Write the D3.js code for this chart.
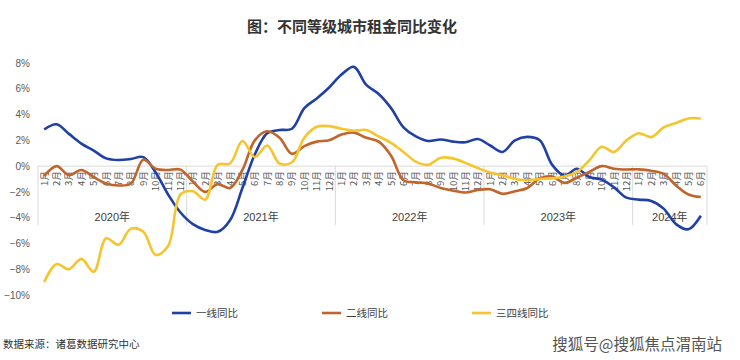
<!DOCTYPE html>
<html><head><meta charset="utf-8">
<script src="https://cdn.jsdelivr.net/npm/d3@7"></script>
<style>body{margin:0;background:#fff}svg{display:block}</style>
</head><body><svg id="c" width="740" height="360"></svg>
<script>
const years = ["2020年","2021年","2022年","2023年","2024年"];
const monthsPerYear = [12,12,12,12,6];
const tier1 = [2.84,3.25,2.5,1.75,1.2,0.6,0.47,0.55,0.7,-0.5,-2.2,-3.6,-4.5,-4.95,-5.1,-4.2,-1.7,0.9,2.55,2.8,2.9,4.5,5.25,6.1,7.1,7.7,6.3,5.6,4.5,3.0,2.3,1.95,2.07,1.9,1.85,2.1,1.6,1.1,2.0,2.27,2.0,0.1,-0.75,-0.2,-0.85,-1.05,-1.65,-2.45,-2.6,-2.7,-3.3,-4.5,-4.9,-3.85];
const tier2 = [-0.78,0.0,-0.7,-0.3,-0.85,-1.35,-1.5,-1.35,0.5,-0.2,-0.3,-0.27,-1.2,-2.0,-1.4,-1.7,-0.3,2.0,2.7,2.2,0.95,1.55,1.9,2.0,2.45,2.6,2.2,1.9,0.8,-1.1,-1.25,-1.35,-1.7,-1.9,-2.05,-1.85,-1.8,-2.15,-1.95,-1.7,-0.95,-0.8,-1.3,-0.9,-0.45,0.0,-0.2,-0.26,-0.25,-0.36,-0.6,-1.5,-2.2,-2.4];
const tier34 = [-9.0,-7.6,-8.0,-7.2,-8.2,-5.6,-6.1,-4.85,-5.1,-6.9,-6.2,-2.2,-1.95,-2.6,0.1,0.2,1.95,0.7,1.6,0.2,0.3,2.2,3.05,3.1,2.9,2.75,2.8,2.3,1.8,1.1,0.35,0.1,0.65,0.6,0.25,-0.15,-0.5,-0.7,-1.0,-1.1,-1.0,-0.95,-0.8,-0.45,0.45,1.5,1.1,2.0,2.55,2.25,3.0,3.35,3.7,3.7];
const yTicks = [8,6,4,2,0,-2,-4,-6,-8,-10];
const seriesNames = ["一线同比","二线同比","三四线同比"];
const colors = ["#2140A6","#C0652B","#F6C52E"];

const cats = [];
years.forEach((y,yi)=>{for(let m=1;m<=monthsPerYear[yi];m++)cats.push({key:y+m,year:y,label:m+"月"});});

const svg = d3.select("#c");
const L=38,R=707,T=63,B=295;
const x = d3.scaleBand().domain(cats.map(d=>d.key)).range([L,R]);
const y = d3.scaleLinear().domain([-10,8]).range([B,T]);
const y0 = y(0);

svg.append("text").attr("x",352).attr("y",32).attr("text-anchor","middle")
  .attr("font-family","Noto Sans CJK SC").attr("font-weight","600").attr("font-size",15).attr("fill","#333")
  .text("图：不同等级城市租金同比变化");

const ya = svg.append("g").attr("transform",`translate(${L},0)`)
  .call(d3.axisLeft(y).tickValues(yTicks).tickSize(0).tickPadding(8).tickFormat(d=>(d<0?"−":"")+Math.abs(d)+"%"));
ya.select(".domain").remove();
ya.selectAll("text").attr("font-family","Liberation Sans, Arial").attr("font-size",10).attr("fill","#595959");

svg.append("line").attr("x1",L).attr("x2",R).attr("y1",y0).attr("y2",y0).attr("stroke","#d9d9d9");
let idx=0; const bounds=[L];
years.forEach((yr,yi)=>{idx+=monthsPerYear[yi];bounds.push(x(cats[idx-1].key)+x.bandwidth());});
bounds.forEach(b=>svg.append("line").attr("x1",b).attr("x2",b).attr("y1",y0).attr("y2",y0+59).attr("stroke","#d9d9d9"));
const xa = svg.append("g").attr("transform",`translate(0,${y0})`)
  .call(d3.axisBottom(x).tickSize(0).tickFormat(k=>cats.find(c=>c.key===k).label));
xa.select(".domain").remove();
xa.selectAll("text").attr("font-family","Noto Sans CJK SC").attr("font-size",9.5).attr("fill","#595959")
  .attr("text-anchor","end").attr("dy",null).attr("y",0)
  .attr("transform","translate(3.5,5) rotate(-90)");
years.forEach((yr,yi)=>{
  svg.append("text").attr("x",(bounds[yi]+bounds[yi+1])/2).attr("y",y0+55).attr("text-anchor","middle")
   .attr("font-family","Liberation Sans, Noto Sans CJK SC").attr("font-size",11).attr("fill","#404040").text(yr);
});

const line = d3.line().x((d,i)=>x(cats[i].key)+x.bandwidth()/2).y(d=>y(d)).curve(d3.curveCatmullRom.alpha(0.5));
[tier1,tier2,tier34].forEach((s,i)=>{
  svg.append("path").attr("d",line(s)).attr("fill","none").attr("stroke",colors[i]).attr("stroke-width",2.6).attr("stroke-linejoin","round");
});

const lx=[172,322,472];
seriesNames.forEach((n,i)=>{
  svg.append("line").attr("x1",lx[i]).attr("x2",lx[i]+19).attr("y1",313).attr("y2",313).attr("stroke",colors[i]).attr("stroke-width",2.6);
  svg.append("text").attr("x",lx[i]+24).attr("y",317).attr("font-family","Noto Sans CJK SC").attr("font-size",10.5).attr("fill","#404040").text(n);
});

svg.append("text").attr("x",3).attr("y",348).attr("font-family","Noto Sans CJK SC").attr("font-size",10.5).attr("fill","#333").text("数据来源：诸葛数据研究中心");
svg.append("text").attr("x",722).attr("y",350).attr("text-anchor","end").attr("font-family","Noto Sans CJK SC").attr("font-size",15.5)
  .attr("fill","#555").attr("stroke","#fff").attr("stroke-width",0.5).attr("paint-order","stroke").text("搜狐号@搜狐焦点渭南站");
</script></body></html>
